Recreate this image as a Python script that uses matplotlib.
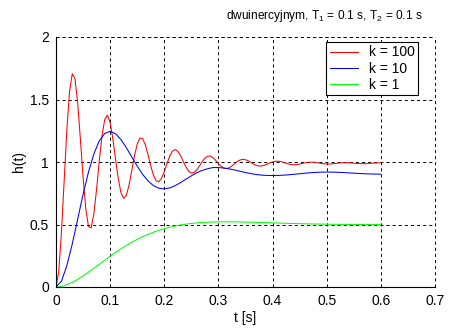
import matplotlib
matplotlib.use("Agg")
import matplotlib.pyplot as plt
import numpy as np

plt.rcParams['font.family'] = ['Liberation Sans', 'DejaVu Sans']
plt.rcParams['lines.scale_dashes'] = False
plt.rcParams['mathtext.fontset'] = 'custom'
plt.rcParams['mathtext.rm'] = 'Liberation Sans'
plt.rcParams['mathtext.it'] = 'Liberation Sans'

# time samples
t_red = [i * 0.005 for i in range(121)]
t_slow = [i * 0.01 for i in range(61)]

# k = 100
h_k100 = [0.0, 0.1184, 0.4307, 0.8448, 1.2537, 1.5617, 1.7059, 1.6680, 1.4741, 1.1849,
          0.8773, 0.6256, 0.4836, 0.4742, 0.5871, 0.7841, 1.0108, 1.2111, 1.3403, 1.3748,
          1.3155, 1.1853, 1.0216, 0.8663, 0.7545, 0.7089, 0.7339, 0.8168, 0.9325, 1.0508,
          1.1436, 1.1914, 1.1873, 1.1372, 1.0573, 0.9691, 0.8943, 0.8492, 0.8415, 0.8695,
          0.9232, 0.9875, 1.0464, 1.0864, 1.0999, 1.0863, 1.0514, 1.0054, 0.9601, 0.9263,
          0.9106, 0.9152, 0.9369, 0.9691, 1.0032, 1.0309, 1.0464, 1.0472, 1.0345, 1.0125,
          0.9874, 0.9653, 0.9511, 0.9475, 0.9542, 0.9688, 0.9869, 1.0041, 1.0164, 1.0213,
          1.0184, 1.0091, 0.9962, 0.9832, 0.9729, 0.9677, 0.9683, 0.9739, 0.9828, 0.9926,
          1.0008, 1.0058, 1.0066, 1.0034, 0.9974, 0.9903, 0.9838, 0.9794, 0.9779, 0.9795,
          0.9834, 0.9885, 0.9935, 0.9972, 0.9989, 0.9984, 0.9959, 0.9924, 0.9886, 0.9855,
          0.9838, 0.9838, 0.9852, 0.9877, 0.9905, 0.9929, 0.9944, 0.9948, 0.9941, 0.9924,
          0.9904, 0.9885, 0.9872, 0.9866, 0.9870, 0.9880, 0.9894, 0.9909, 0.9920, 0.9926,
          0.9925]

# k = 10
h_k10 = [0.0, 0.0464, 0.1696, 0.3436, 0.5418, 0.7404, 0.9197, 1.0654, 1.1693, 1.2286,
         1.2456, 1.2263, 1.1792, 1.1139, 1.0402, 0.9669, 0.9012, 0.8482, 0.8108, 0.7899,
         0.7846, 0.7925, 0.8105, 0.8350, 0.8624, 0.8894, 0.9135, 0.9327, 0.9462, 0.9558,
         0.9552, 0.9519, 0.9451, 0.9359, 0.9257, 0.9158, 0.9070, 0.8999, 0.8951, 0.8925,
         0.8921, 0.8926, 0.8946, 0.8978, 0.9019, 0.9062, 0.9104, 0.9141, 0.9169, 0.9188,
         0.9195, 0.9191, 0.9178, 0.9158, 0.9133, 0.9107, 0.9081, 0.9059, 0.9042, 0.9032,
         0.9028]

# k = 1
h_k1 = [0.0, 0.0047, 0.0175, 0.0367, 0.0608, 0.0885, 0.1186, 0.1501, 0.1823, 0.2144,
        0.2458, 0.2762, 0.3051, 0.3322, 0.3575, 0.3808, 0.4020, 0.4212, 0.4383, 0.4534,
        0.4666, 0.4781, 0.4878, 0.4960, 0.5028, 0.5083, 0.5127, 0.5160, 0.5185, 0.5201,
        0.5211, 0.5216, 0.5215, 0.5211, 0.5204, 0.5194, 0.5183, 0.5170, 0.5157, 0.5143,
        0.5129, 0.5115, 0.5102, 0.5089, 0.5077, 0.5066, 0.5056, 0.5046, 0.5037, 0.5030,
        0.5023, 0.5017, 0.5011, 0.5007, 0.5003, 0.5000, 0.4997, 0.4995, 0.4994, 0.4992,
        0.4992]

labels = ['k = 100', 'k = 10', 'k = 1']
colors = ['#ff0000', '#0000ff', '#00ff00']
x_ticks = [0, 0.1, 0.2, 0.3, 0.4, 0.5, 0.6, 0.7]
x_ticklabels = ['0', '0.1', '0.2', '0.3', '0.4', '0.5', '0.6', '0.7']
y_ticks = [0, 0.5, 1, 1.5, 2]
y_ticklabels = ['0', '0.5', '1', '1.5', '2']

W, H = 461, 330
fig = plt.figure(figsize=(W / 100, H / 100), dpi=100)
ax = fig.add_axes([56 / W, (H - 287) / H, (435 - 56) / W, (287 - 37) / H])

ax.plot(t_red, h_k100, color=colors[0], lw=0.75, label=labels[0])
ax.plot(t_slow, h_k10, color=colors[1], lw=0.75, label=labels[1])
ax.plot(t_slow, h_k1, color=colors[2], lw=0.75, label=labels[2])

ax.set_xlim(0, 0.7)
ax.set_ylim(0, 2)
ax.set_xticks(x_ticks)
ax.set_xticklabels(x_ticklabels)
ax.set_yticks(y_ticks)
ax.set_yticklabels(y_ticklabels)
ax.tick_params(direction='in', length=0, labelsize=10, pad=5, colors='black')

for s in ['top', 'right']:
    ax.spines[s].set_visible(False)
for s in ['left', 'bottom']:
    ax.spines[s].set_linewidth(0.8)
    ax.spines[s].set_color('black')

ax.grid(True, color='black', linestyle=(0, (2.2, 2.2)), linewidth=0.7)
# top and right grid border lines
ax.axhline(2, color='black', linestyle=(0, (2.2, 2.2)), linewidth=0.7, clip_on=False)
ax.axvline(0.7, color='black', linestyle=(0, (2.2, 2.2)), linewidth=0.7, clip_on=False)
ax.set_axisbelow(True)

ax.set_xlabel('t [s]', fontsize=10, labelpad=2)
ax.set_ylabel('h(t)', fontsize=10, labelpad=3)

fig.text(423 / W, (H - 16) / H, 'dwuinercyjnym, T$_1$ = 0.1 s, T$_2$ = 0.1 s',
         ha='right', va='center', fontsize=8.6)

leg = ax.legend(loc='upper right', bbox_to_anchor=(418 / W, (H - 42) / H),
                bbox_transform=fig.transFigure, fontsize=10, frameon=True,
                fancybox=False, edgecolor='black', framealpha=1,
                handlelength=2.0, handletextpad=0.8, labelspacing=0.15,
                borderpad=0.25, borderaxespad=0)
leg.get_frame().set_linewidth(0.8)

fig.savefig('out.png', dpi=100)
